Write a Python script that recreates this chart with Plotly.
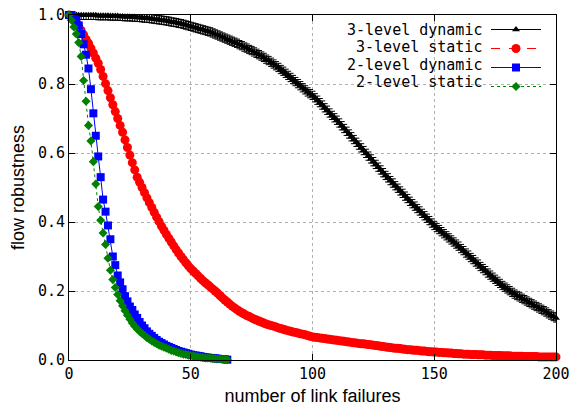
import plotly.graph_objects as go

# ---------------- data ----------------
x_3level = list(range(0, 201))
three_level_dynamic = [
    1.000, 1.000, 1.000, 1.000, 0.999, 0.999, 0.999, 0.999, 0.999, 0.999, 0.999,
    0.999, 0.998, 0.998, 0.998, 0.998, 0.998, 0.997, 0.997, 0.997, 0.997,
    0.996, 0.996, 0.995, 0.995, 0.995, 0.994, 0.994, 0.993, 0.993, 0.992,
    0.991, 0.991, 0.990, 0.989, 0.988, 0.987, 0.986, 0.985, 0.984, 0.983,
    0.982, 0.980, 0.979, 0.978, 0.976, 0.975, 0.973, 0.971, 0.969, 0.967,
    0.965, 0.963, 0.961, 0.959, 0.957, 0.955, 0.953, 0.951, 0.948, 0.945,
    0.942, 0.939, 0.936, 0.933, 0.930, 0.927, 0.924, 0.921, 0.918, 0.914,
    0.911, 0.907, 0.904, 0.900, 0.897, 0.893, 0.889, 0.885, 0.881, 0.877,
    0.872, 0.868, 0.863, 0.858, 0.853, 0.848, 0.842, 0.837, 0.831, 0.825,
    0.819, 0.813, 0.807, 0.801, 0.795, 0.789, 0.783, 0.777, 0.772, 0.767,
    0.760, 0.753, 0.746, 0.739, 0.731, 0.724, 0.716, 0.709, 0.702, 0.695,
    0.687, 0.679, 0.671, 0.663, 0.655, 0.647, 0.639, 0.631, 0.623, 0.615,
    0.607, 0.599, 0.591, 0.583, 0.575, 0.567, 0.559, 0.551, 0.543, 0.535,
    0.528, 0.520, 0.513, 0.505, 0.498, 0.490, 0.483, 0.475, 0.468, 0.460,
    0.453, 0.446, 0.439, 0.432, 0.425, 0.418, 0.411, 0.404, 0.397, 0.390,
    0.384, 0.378, 0.372, 0.366, 0.360, 0.354, 0.348, 0.342, 0.336, 0.330,
    0.323, 0.317, 0.310, 0.304, 0.297, 0.291, 0.284, 0.278, 0.271, 0.265,
    0.259, 0.252, 0.246, 0.240, 0.234, 0.228, 0.222, 0.216, 0.211, 0.206,
    0.201, 0.196, 0.191, 0.187, 0.183, 0.179, 0.175, 0.171, 0.167, 0.163,
    0.159, 0.155, 0.151, 0.147, 0.143, 0.139, 0.134, 0.130, 0.126, 0.122,
]
three_level_static = [
    1.000, 0.995, 0.988, 0.978, 0.967, 0.955, 0.943, 0.930, 0.918, 0.904, 0.890,
    0.875, 0.860, 0.842, 0.822, 0.801, 0.781, 0.760, 0.740, 0.720, 0.700,
    0.680, 0.660, 0.638, 0.616, 0.594, 0.572, 0.551, 0.530, 0.515, 0.500,
    0.485, 0.470, 0.456, 0.442, 0.428, 0.414, 0.401, 0.388, 0.376, 0.364,
    0.353, 0.342, 0.331, 0.320, 0.310, 0.300, 0.291, 0.282, 0.273, 0.265,
    0.258, 0.251, 0.244, 0.237, 0.230, 0.224, 0.218, 0.212, 0.206, 0.200,
    0.194, 0.187, 0.180, 0.174, 0.168, 0.162, 0.156, 0.151, 0.146, 0.141,
    0.137, 0.133, 0.129, 0.126, 0.122, 0.119, 0.116, 0.113, 0.110, 0.107,
    0.104, 0.102, 0.100, 0.098, 0.096, 0.093, 0.091, 0.089, 0.087, 0.085,
    0.083, 0.081, 0.080, 0.078, 0.076, 0.075, 0.073, 0.071, 0.069, 0.067,
    0.066, 0.065, 0.064, 0.063, 0.062, 0.061, 0.060, 0.059, 0.058, 0.057,
    0.056, 0.055, 0.054, 0.053, 0.052, 0.051, 0.050, 0.049, 0.048, 0.047,
    0.047, 0.046, 0.045, 0.044, 0.043, 0.042, 0.041, 0.040, 0.039, 0.038,
    0.037, 0.036, 0.035, 0.034, 0.034, 0.033, 0.032, 0.031, 0.030, 0.030,
    0.029, 0.028, 0.028, 0.027, 0.026, 0.026, 0.025, 0.024, 0.024, 0.023,
    0.023, 0.022, 0.022, 0.021, 0.021, 0.020, 0.020, 0.019, 0.019, 0.018,
    0.018, 0.017, 0.017, 0.017, 0.016, 0.016, 0.016, 0.015, 0.015, 0.015,
    0.014, 0.014, 0.014, 0.013, 0.013, 0.013, 0.013, 0.012, 0.012, 0.012,
    0.012, 0.011, 0.011, 0.011, 0.011, 0.011, 0.010, 0.010, 0.010, 0.010,
    0.010, 0.010, 0.009, 0.009, 0.009, 0.009, 0.009, 0.009, 0.009, 0.009,
]
x_2level = list(range(0, 66))
two_level_dynamic = [
    1.000, 1.000, 0.995, 0.985, 0.970, 0.945, 0.915, 0.885, 0.845, 0.785,
    0.715, 0.650, 0.590, 0.530, 0.465, 0.430, 0.390, 0.350, 0.300, 0.275,
    0.245, 0.225, 0.205, 0.185, 0.170, 0.155, 0.145, 0.132, 0.122, 0.110,
    0.100, 0.092, 0.083, 0.076, 0.070, 0.064, 0.058, 0.053, 0.049, 0.045,
    0.041, 0.038, 0.035, 0.032, 0.029, 0.026, 0.024, 0.022, 0.020, 0.018,
    0.016, 0.014, 0.013, 0.012, 0.011, 0.009, 0.008, 0.007, 0.006, 0.006,
    0.005, 0.004, 0.003, 0.003, 0.002, 0.001,
]
two_level_static = [
    1.000, 0.985, 0.965, 0.945, 0.920, 0.880, 0.810, 0.750, 0.680, 0.635,
    0.575, 0.510, 0.445, 0.405, 0.368, 0.335, 0.295, 0.260, 0.233, 0.210,
    0.190, 0.172, 0.157, 0.143, 0.130, 0.118, 0.107, 0.098, 0.090, 0.083,
    0.077, 0.071, 0.065, 0.060, 0.055, 0.051, 0.047, 0.043, 0.040, 0.037,
    0.034, 0.031, 0.028, 0.026, 0.023, 0.021, 0.019, 0.017, 0.016, 0.014,
    0.013, 0.012, 0.010, 0.009, 0.008, 0.007, 0.006, 0.006, 0.005, 0.004,
    0.004, 0.003, 0.003, 0.002, 0.002, 0.001,
]
series_names = ["3-level dynamic", "3-level static", "2-level dynamic", "2-level static"]
x_ticks = [0, 50, 100, 150, 200]
y_ticks = [0.0, 0.2, 0.4, 0.6, 0.8, 1.0]

# ---------------- styles ----------------
styles = [
    dict(color="black", dash="solid", symbol="triangle-up", size=7),
    dict(color="#ff0000", dash="dash", symbol="circle", size=9),
    dict(color="#0000ff", dash="solid", symbol="square", size=8),
    dict(color="#008000", dash="dot", symbol="diamond", size=7),
]
xs = [x_3level, x_3level, x_2level, x_2level]
ys = [three_level_dynamic, three_level_static, two_level_dynamic, two_level_static]

fig = go.Figure()
for name, st, xv, yv in zip(series_names, styles, xs, ys):
    kw = {}
    if name == "3-level dynamic":
        kw["error_y"] = dict(type="constant", value=0.012, color="black", thickness=1, width=3)
    fig.add_trace(go.Scatter(
        x=xv, y=yv, name=name, mode="lines+markers", showlegend=False,
        line=dict(color=st["color"], dash=st["dash"], width=1),
        marker=dict(symbol=st["symbol"], size=st["size"], color=st["color"], line=dict(width=0)),
        cliponaxis=False, **kw))

# legend keys (symbols only); texts are placed as right-aligned annotations
for name, st in zip(series_names, styles):
    fig.add_trace(go.Scatter(
        x=[None], y=[None], name=" ", mode="lines+markers", showlegend=True,
        line=dict(color=st["color"], dash=st["dash"], width=1),
        marker=dict(symbol=st["symbol"], size=st["size"], color=st["color"])))

PLOT_W, PLOT_H = 487, 345
mono = "DejaVu Sans Mono"
for i, name in enumerate(series_names):
    fig.add_annotation(
        text=name, xref="paper", yref="paper",
        x=(484 - 69) / PLOT_W, xanchor="right",
        y=1 - (15 + 17.3 * i) / PLOT_H, yanchor="middle",
        showarrow=False, font=dict(family=mono, size=15, color="black"))

axis_common = dict(
    showline=True, linecolor="black", linewidth=1, mirror="ticks",
    ticks="inside", ticklen=6, tickcolor="black", automargin=False,
    showgrid=True, gridcolor="#b0b0b0", griddash="dot", gridwidth=1,
    zeroline=False, tickfont=dict(family=mono, size=15, color="black"),
)
fig.update_xaxes(range=[0, 200], tickvals=x_ticks,
                 title=dict(text="number of link failures",
                            font=dict(family="Liberation Sans", size=18, color="black"), standoff=7),
                 **axis_common)
fig.update_yaxes(range=[0, 1], tickvals=y_ticks, tickformat=".1f",
                 title=dict(text="flow robustness",
                            font=dict(family="Liberation Sans", size=18, color="black"), standoff=8),
                 **axis_common)

fig.update_layout(
    width=571, height=412,
    margin=dict(l=69, r=15, t=15, b=52, autoexpand=False),
    paper_bgcolor="white", plot_bgcolor="white",
    legend=dict(x=(486 - 69) / PLOT_W, xanchor="left", y=1.0, yanchor="top",
                bgcolor="rgba(0,0,0,0)", font=dict(size=12), itemwidth=50,
                tracegroupgap=0),
)

fig.write_html("out.html", config={"displayModeBar": False},
               post_script="document.body.style.margin='0';")
